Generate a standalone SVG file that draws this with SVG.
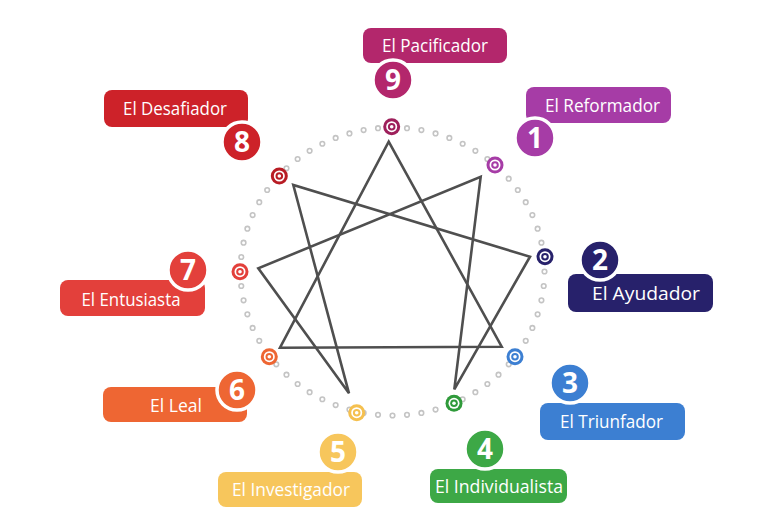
<svg xmlns="http://www.w3.org/2000/svg" width="768" height="528" viewBox="0 0 768 528">
<style>
.lbl{font-family:"Open Sans","Noto Sans","Liberation Sans",sans-serif;font-size:18.5px;fill:#fff}
.num{font-family:"Open Sans","Noto Sans","Liberation Sans",sans-serif;font-size:28px;font-weight:bold;fill:#fff;text-anchor:middle}
.badge{stroke:#fff;stroke-width:3.5}
.ln{fill:none;stroke:#4f4f4f;stroke-width:2.6;stroke-linejoin:miter}
</style>
<rect width="768" height="528" fill="#fff"/>
<g id="ring">
<path d="M392.5 127.5A152 144 0 1 1 392.5 415.5A152 144 0 1 1 392.5 127.5Z" fill="none" stroke="#c4c4c4" stroke-width="6.2" stroke-linecap="round" stroke-dasharray="0 1" pathLength="64"/>
<path d="M392.5 127.5A152 144 0 1 1 392.5 415.5A152 144 0 1 1 392.5 127.5Z" fill="none" stroke="#fff" stroke-width="3" stroke-linecap="round" stroke-dasharray="0 1" pathLength="64"/>
</g>
<g id="connectors">
<polygon class="ln" points="388.7,141.7 501.7,346.7 280,347.7"/>
<polygon class="ln" points="480.7,176.7 454.3,389.3 530,256.7 293.3,185 349,393.3 258.3,268.3"/>
</g>
<g id="n9">
<rect x="363" y="28" width="144" height="35" rx="8" fill="#b3276c"/>
<text class="lbl" x="382" y="52" textLength="106" lengthAdjust="spacingAndGlyphs">El Pacificador</text>
<circle class="badge" cx="393" cy="80" r="20" fill="#b3276c"/>
<text class="num" x="393" y="90">9</text>
<circle cx="391.7" cy="126.7" r="8.5" fill="#9e1f5b"/><circle cx="391.7" cy="126.7" r="5.5" fill="#fff"/><circle cx="391.7" cy="126.7" r="3.8" fill="#9e1f5b"/><circle cx="391.7" cy="126.7" r="1.8" fill="#fff"/>
</g>
<g id="n8">
<rect x="104" y="90" width="144" height="37" rx="8" fill="#cd2229"/>
<text class="lbl" x="123" y="115" textLength="104" lengthAdjust="spacingAndGlyphs">El Desafiador</text>
<circle class="badge" cx="242" cy="142" r="20" fill="#cd2229"/>
<text class="num" x="242" y="152">8</text>
<circle cx="279.3" cy="176" r="8.5" fill="#b81c24"/><circle cx="279.3" cy="176" r="5.5" fill="#fff"/><circle cx="279.3" cy="176" r="3.8" fill="#b81c24"/><circle cx="279.3" cy="176" r="1.8" fill="#fff"/>
</g>
<g id="n1">
<rect x="526" y="87" width="145" height="36" rx="8" fill="#a63ca6"/>
<text class="lbl" x="545" y="112" textLength="115" lengthAdjust="spacingAndGlyphs">El Reformador</text>
<circle class="badge" cx="535" cy="138" r="20" fill="#a63ca6"/>
<text class="num" x="535" y="148">1</text>
<circle cx="495" cy="165" r="8.5" fill="#a63ca6"/><circle cx="495" cy="165" r="5.5" fill="#fff"/><circle cx="495" cy="165" r="3.8" fill="#a63ca6"/><circle cx="495" cy="165" r="1.8" fill="#fff"/>
</g>
<g id="n2">
<rect x="568" y="274" width="145" height="38" rx="8" fill="#27216b"/>
<text class="lbl" x="592" y="300" textLength="108" lengthAdjust="spacingAndGlyphs">El Ayudador</text>
<circle class="badge" cx="600" cy="260" r="20" fill="#27216b"/>
<text class="num" x="600" y="270">2</text>
<circle cx="545" cy="256.7" r="8.5" fill="#27216b"/><circle cx="545" cy="256.7" r="5.5" fill="#fff"/><circle cx="545" cy="256.7" r="3.8" fill="#27216b"/><circle cx="545" cy="256.7" r="1.8" fill="#fff"/>
</g>
<g id="n7">
<rect x="60" y="280" width="145" height="36" rx="8" fill="#e3403b"/>
<text class="lbl" x="81.5" y="306" textLength="99" lengthAdjust="spacingAndGlyphs">El Entusiasta</text>
<circle class="badge" cx="188" cy="270" r="20" fill="#e3403b"/>
<text class="num" x="188" y="280">7</text>
<circle cx="240" cy="271.7" r="8.5" fill="#e3403b"/><circle cx="240" cy="271.7" r="5.5" fill="#fff"/><circle cx="240" cy="271.7" r="3.8" fill="#e3403b"/><circle cx="240" cy="271.7" r="1.8" fill="#fff"/>
</g>
<g id="n3">
<rect x="540" y="403" width="145" height="37" rx="8" fill="#3c7fd2"/>
<text class="lbl" x="560" y="428" textLength="103" lengthAdjust="spacingAndGlyphs">El Triunfador</text>
<circle class="badge" cx="570" cy="383" r="20" fill="#3c7fd2"/>
<text class="num" x="570" y="393">3</text>
<circle cx="515" cy="356.7" r="8.5" fill="#3c7fd2"/><circle cx="515" cy="356.7" r="5.5" fill="#fff"/><circle cx="515" cy="356.7" r="3.8" fill="#3c7fd2"/><circle cx="515" cy="356.7" r="1.8" fill="#fff"/>
</g>
<g id="n6">
<rect x="103" y="387" width="144" height="35" rx="8" fill="#ee6633"/>
<text class="lbl" x="150" y="411.5" textLength="52" lengthAdjust="spacingAndGlyphs">El Leal</text>
<circle class="badge" cx="237" cy="390" r="20" fill="#ee6633"/>
<text class="num" x="237" y="400">6</text>
<circle cx="269.3" cy="356.7" r="8.5" fill="#ee6633"/><circle cx="269.3" cy="356.7" r="5.5" fill="#fff"/><circle cx="269.3" cy="356.7" r="3.8" fill="#ee6633"/><circle cx="269.3" cy="356.7" r="1.8" fill="#fff"/>
</g>
<g id="n5">
<rect x="218" y="472" width="144" height="35" rx="8" fill="#f7c65c"/>
<text class="lbl" x="232" y="496" textLength="118" lengthAdjust="spacingAndGlyphs">El Investigador</text>
<circle class="badge" cx="338" cy="452" r="20" fill="#f7c65c"/>
<text class="num" x="338" y="462">5</text>
<circle cx="356.7" cy="412.7" r="8.5" fill="#f5c04f"/><circle cx="356.7" cy="412.7" r="5.5" fill="#fff"/><circle cx="356.7" cy="412.7" r="3.8" fill="#f5c04f"/><circle cx="356.7" cy="412.7" r="1.8" fill="#fff"/>
</g>
<g id="n4">
<rect x="430" y="469" width="137" height="34" rx="8" fill="#3da846"/>
<text class="lbl" x="435" y="492.5" textLength="128" lengthAdjust="spacingAndGlyphs">El Individualista</text>
<circle class="badge" cx="485" cy="449" r="20" fill="#3da846"/>
<text class="num" x="485" y="459">4</text>
<circle cx="454" cy="403.3" r="8.5" fill="#2f9a3a"/><circle cx="454" cy="403.3" r="5.5" fill="#fff"/><circle cx="454" cy="403.3" r="3.8" fill="#2f9a3a"/><circle cx="454" cy="403.3" r="1.8" fill="#fff"/>
</g>
</svg>
